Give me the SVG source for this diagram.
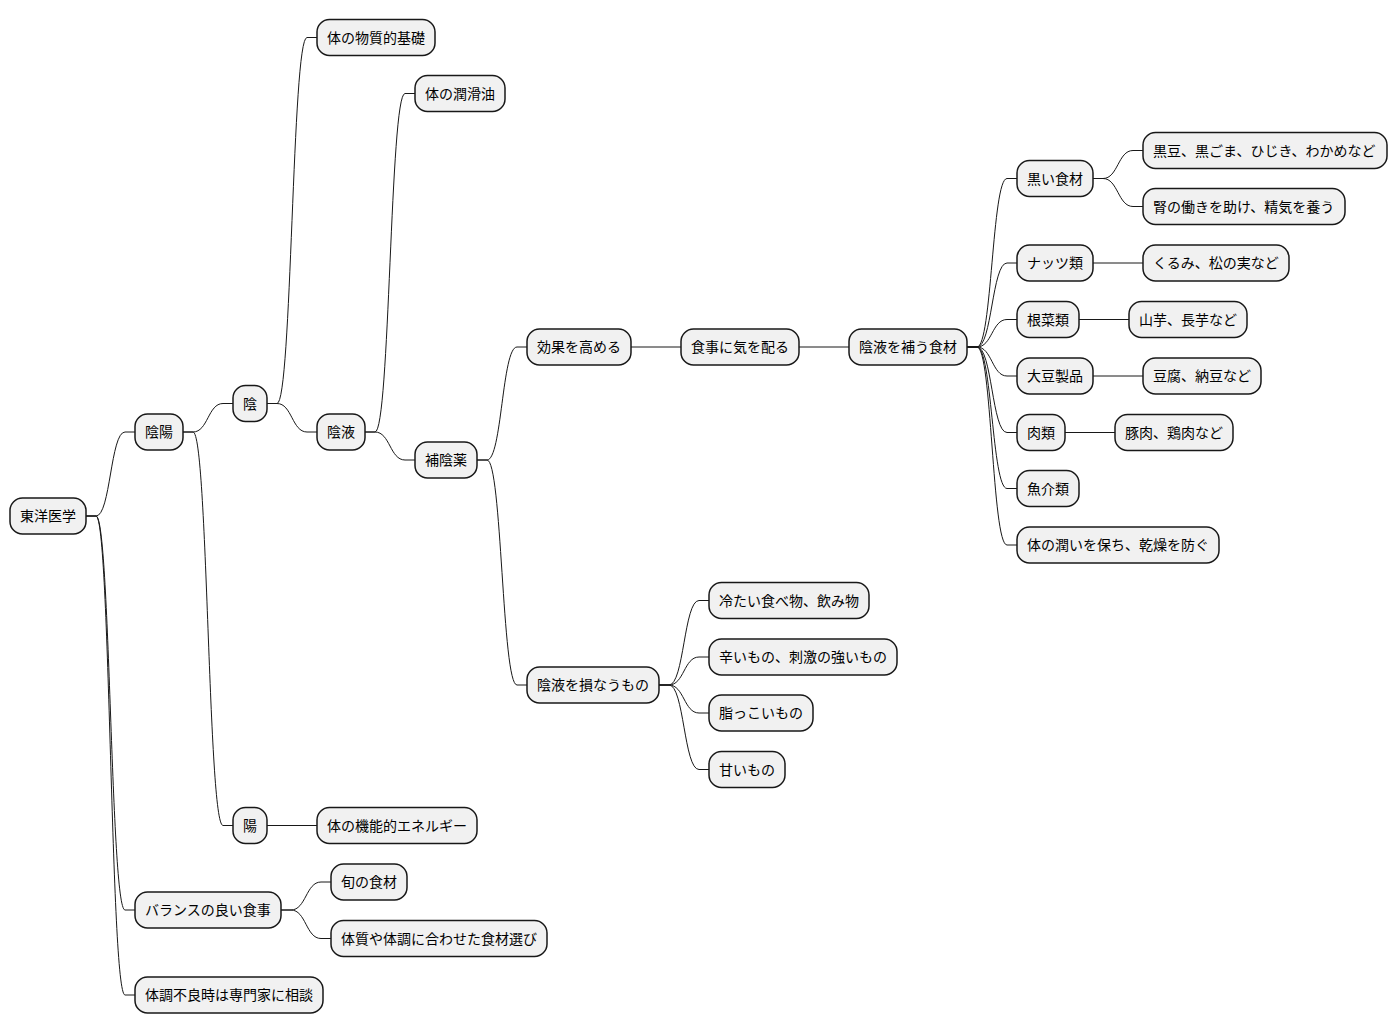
<svg xmlns="http://www.w3.org/2000/svg" width="1398" height="1034" viewBox="0 0 1398 1034">
<style>
.n rect{fill:#F1F1F1;stroke:#181818;stroke-width:1.5}
.n text{font-family:"Noto Sans CJK JP","Noto Sans",sans-serif;font-size:14px;fill:#000}
#links path{fill:none;stroke:#181818;stroke-width:1}
</style>
<rect width="1398" height="1034" fill="#FFFFFF"/>
<g id="links">
<path d="M86 516 H96 C110.5 516 110.5 432 125 432 H135"/>
<path d="M86 516 H96 C110.5 516 110.5 910 125 910 H135"/>
<path d="M86 516 H96 C110.5 516 110.5 995 125 995 H135"/>
<path d="M183 432 H193 C208 432 208 403.5 223 403.5 H233"/>
<path d="M183 432 H193 C208 432 208 825.5 223 825.5 H233"/>
<path d="M267 403.5 H277 C292 403.5 292 37.5 307 37.5 H317"/>
<path d="M267 403.5 H277 C292 403.5 292 432 307 432 H317"/>
<path d="M365 432 H375 C390 432 390 93.5 405 93.5 H415"/>
<path d="M365 432 H375 C390 432 390 460 405 460 H415"/>
<path d="M477 460 H487 C502 460 502 347 517 347 H527"/>
<path d="M477 460 H487 C502 460 502 685 517 685 H527"/>
<path d="M631 347 H681"/>
<path d="M799 347 H849"/>
<path d="M967 347 H977 C992 347 992 178.5 1007 178.5 H1017"/>
<path d="M967 347 H977 C992 347 992 263 1007 263 H1017"/>
<path d="M967 347 H977 C992 347 992 319.5 1007 319.5 H1017"/>
<path d="M967 347 H977 C992 347 992 376 1007 376 H1017"/>
<path d="M967 347 H977 C992 347 992 432.5 1007 432.5 H1017"/>
<path d="M967 347 H977 C992 347 992 488.5 1007 488.5 H1017"/>
<path d="M967 347 H977 C992 347 992 545 1007 545 H1017"/>
<path d="M1093 178.5 H1103 C1118 178.5 1118 150.5 1133 150.5 H1143"/>
<path d="M1093 178.5 H1103 C1118 178.5 1118 206.5 1133 206.5 H1143"/>
<path d="M1093 263 H1143"/>
<path d="M1079 319.5 H1129"/>
<path d="M1093 376 H1143"/>
<path d="M1065 432.5 H1115"/>
<path d="M659 685 H669 C684 685 684 600.5 699 600.5 H709"/>
<path d="M659 685 H669 C684 685 684 657 699 657 H709"/>
<path d="M659 685 H669 C684 685 684 713 699 713 H709"/>
<path d="M659 685 H669 C684 685 684 769.5 699 769.5 H709"/>
<path d="M267 825.5 H317"/>
<path d="M281 910 H291 C306 910 306 882 321 882 H331"/>
<path d="M281 910 H291 C306 910 306 938.5 321 938.5 H331"/>
</g>
<g id="n1" class="n"><rect x="10" y="498" width="76" height="36" rx="12.5"/><text x="20" y="521">東洋医学</text></g>
<g id="n2" class="n"><rect x="135" y="414" width="48" height="36" rx="12.5"/><text x="145" y="437">陰陽</text></g>
<g id="n3" class="n"><rect x="233" y="385.5" width="34" height="36" rx="12.5"/><text x="243" y="408.5">陰</text></g>
<g id="n4" class="n"><rect x="317" y="19.5" width="118" height="36" rx="12.5"/><text x="327" y="42.5">体の物質的基礎</text></g>
<g id="n5" class="n"><rect x="317" y="414" width="48" height="36" rx="12.5"/><text x="327" y="437">陰液</text></g>
<g id="n6" class="n"><rect x="415" y="75.5" width="90" height="36" rx="12.5"/><text x="425" y="98.5">体の潤滑油</text></g>
<g id="n7" class="n"><rect x="415" y="442" width="62" height="36" rx="12.5"/><text x="425" y="465">補陰薬</text></g>
<g id="n8" class="n"><rect x="527" y="329" width="104" height="36" rx="12.5"/><text x="537" y="352">効果を高める</text></g>
<g id="n9" class="n"><rect x="681" y="329" width="118" height="36" rx="12.5"/><text x="691" y="352">食事に気を配る</text></g>
<g id="n10" class="n"><rect x="849" y="329" width="118" height="36" rx="12.5"/><text x="859" y="352">陰液を補う食材</text></g>
<g id="n11" class="n"><rect x="1017" y="160.5" width="76" height="36" rx="12.5"/><text x="1027" y="183.5">黒い食材</text></g>
<g id="n12" class="n"><rect x="1143" y="132.5" width="244" height="36" rx="12.5"/><text x="1153" y="155.5">黒豆、黒ごま、ひじき、わかめなど</text></g>
<g id="n13" class="n"><rect x="1143" y="188.5" width="202" height="36" rx="12.5"/><text x="1153" y="211.5">腎の働きを助け、精気を養う</text></g>
<g id="n14" class="n"><rect x="1017" y="245" width="76" height="36" rx="12.5"/><text x="1027" y="268">ナッツ類</text></g>
<g id="n15" class="n"><rect x="1143" y="245" width="146" height="36" rx="12.5"/><text x="1153" y="268">くるみ、松の実など</text></g>
<g id="n16" class="n"><rect x="1017" y="301.5" width="62" height="36" rx="12.5"/><text x="1027" y="324.5">根菜類</text></g>
<g id="n17" class="n"><rect x="1129" y="301.5" width="118" height="36" rx="12.5"/><text x="1139" y="324.5">山芋、長芋など</text></g>
<g id="n18" class="n"><rect x="1017" y="358" width="76" height="36" rx="12.5"/><text x="1027" y="381">大豆製品</text></g>
<g id="n19" class="n"><rect x="1143" y="358" width="118" height="36" rx="12.5"/><text x="1153" y="381">豆腐、納豆など</text></g>
<g id="n20" class="n"><rect x="1017" y="414.5" width="48" height="36" rx="12.5"/><text x="1027" y="437.5">肉類</text></g>
<g id="n21" class="n"><rect x="1115" y="414.5" width="118" height="36" rx="12.5"/><text x="1125" y="437.5">豚肉、鶏肉など</text></g>
<g id="n22" class="n"><rect x="1017" y="470.5" width="62" height="36" rx="12.5"/><text x="1027" y="493.5">魚介類</text></g>
<g id="n23" class="n"><rect x="1017" y="527" width="202" height="36" rx="12.5"/><text x="1027" y="550">体の潤いを保ち、乾燥を防ぐ</text></g>
<g id="n24" class="n"><rect x="527" y="667" width="132" height="36" rx="12.5"/><text x="537" y="690">陰液を損なうもの</text></g>
<g id="n25" class="n"><rect x="709" y="582.5" width="160" height="36" rx="12.5"/><text x="719" y="605.5">冷たい食べ物、飲み物</text></g>
<g id="n26" class="n"><rect x="709" y="639" width="188" height="36" rx="12.5"/><text x="719" y="662">辛いもの、刺激の強いもの</text></g>
<g id="n27" class="n"><rect x="709" y="695" width="104" height="36" rx="12.5"/><text x="719" y="718">脂っこいもの</text></g>
<g id="n28" class="n"><rect x="709" y="751.5" width="76" height="36" rx="12.5"/><text x="719" y="774.5">甘いもの</text></g>
<g id="n29" class="n"><rect x="233" y="807.5" width="34" height="36" rx="12.5"/><text x="243" y="830.5">陽</text></g>
<g id="n30" class="n"><rect x="317" y="807.5" width="160" height="36" rx="12.5"/><text x="327" y="830.5">体の機能的エネルギー</text></g>
<g id="n31" class="n"><rect x="135" y="892" width="146" height="36" rx="12.5"/><text x="145" y="915">バランスの良い食事</text></g>
<g id="n32" class="n"><rect x="331" y="864" width="76" height="36" rx="12.5"/><text x="341" y="887">旬の食材</text></g>
<g id="n33" class="n"><rect x="331" y="920.5" width="216" height="36" rx="12.5"/><text x="341" y="943.5">体質や体調に合わせた食材選び</text></g>
<g id="n34" class="n"><rect x="135" y="977" width="188" height="36" rx="12.5"/><text x="145" y="1000">体調不良時は専門家に相談</text></g>
</svg>
